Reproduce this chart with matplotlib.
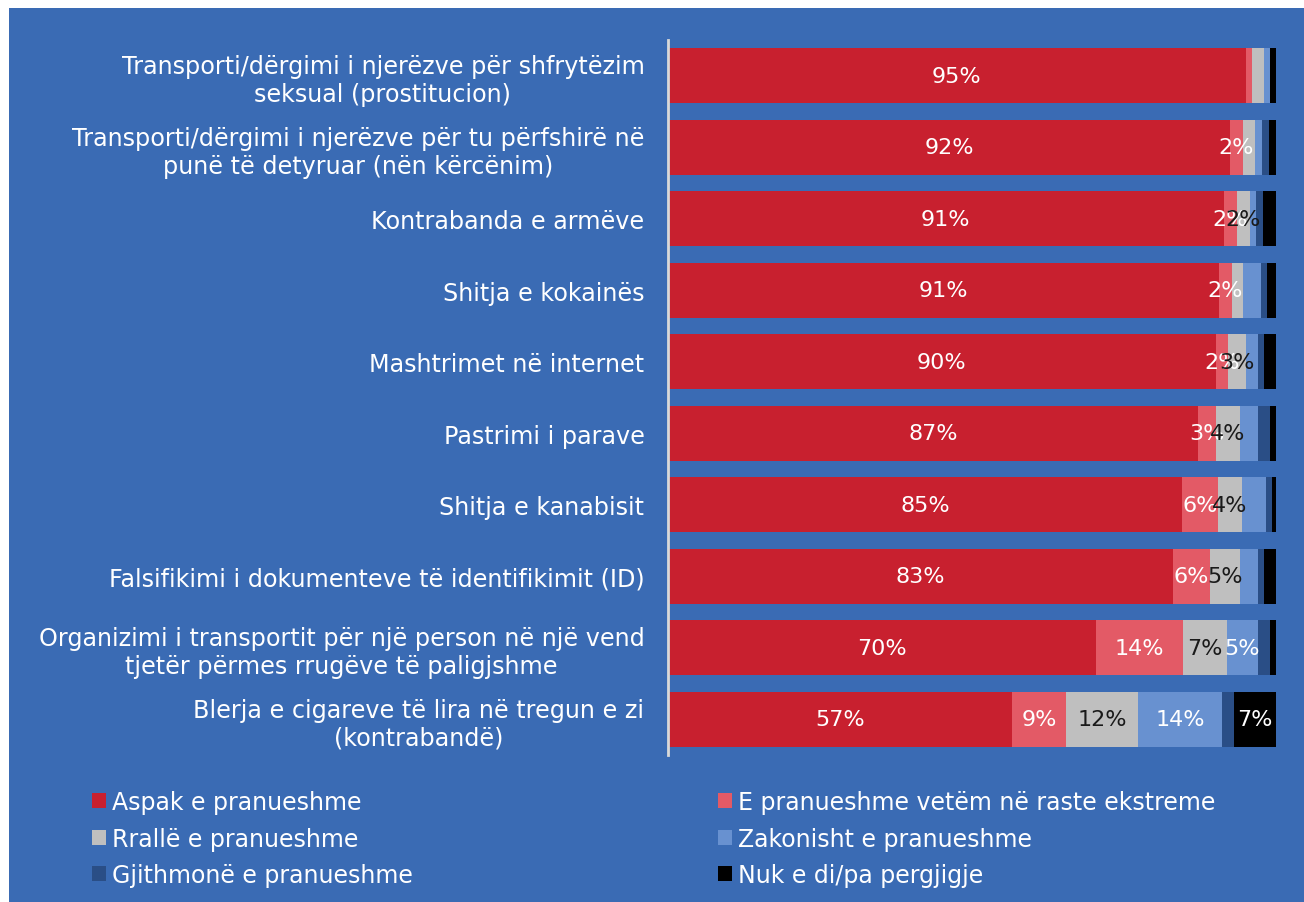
import matplotlib.pyplot as plt
from matplotlib.patches import Rectangle, Patch

categories = [
    "Transporti/dërgimi i njerëzve për shfrytëzim\nseksual (prostitucion)",
    "Transporti/dërgimi i njerëzve për tu përfshirë në\npunë të detyruar (nën kërcënim)",
    "Kontrabanda e armëve",
    "Shitja e kokainës",
    "Mashtrimet në internet",
    "Pastrimi i parave",
    "Shitja e kanabisit",
    "Falsifikimi i dokumenteve të identifikimit (ID)",
    "Organizimi i transportit për një person në një vend\ntjetër përmes rrugëve të paligjshme",
    "Blerja e cigareve të lira në tregun e zi\n(kontrabandë)",
]

series = [
    "Aspak e pranueshme",
    "E pranueshme vetëm në raste ekstreme",
    "Rrallë e pranueshme",
    "Zakonisht e pranueshme",
    "Gjithmonë e pranueshme",
    "Nuk e di/pa pergjigje",
]

aspak = [95.0, 92.4, 91.4, 90.6, 90.1, 87.1, 84.6, 83.1, 70.4, 56.6]
ekstreme = [1.0, 2.1, 2.2, 2.1, 2.0, 3.0, 5.9, 6.0, 14.3, 8.9]
rralle = [2.0, 2.1, 2.1, 1.9, 3.0, 4.0, 3.9, 5.0, 7.2, 11.8]
zakonisht = [1.0, 1.1, 1.0, 2.9, 1.9, 2.9, 4.0, 2.9, 5.2, 13.9]
gjithmone = [0.0, 1.1, 1.1, 1.0, 1.1, 2.0, 0.9, 1.1, 1.9, 1.9]
nuk_di = [1.0, 1.2, 2.2, 1.5, 1.9, 1.0, 0.7, 1.9, 1.0, 6.9]

# labels that are actually printed on the chart
lbl_aspak = ["95%", "92%", "91%", "91%", "90%", "87%", "85%", "83%", "70%", "57%"]
lbl_ekstreme = ["", "2%", "2%", "2%", "2%", "3%", "6%", "6%", "14%", "9%"]
lbl_rralle = ["", "", "2%", "", "3%", "4%", "4%", "5%", "7%", "12%"]
lbl_zakonisht = ["", "", "", "", "", "", "", "", "5%", "14%"]
lbl_gjithmone = [""] * 10
lbl_nuk_di = ["", "", "", "", "", "", "", "", "", "7%"]

values = [aspak, ekstreme, rralle, zakonisht, gjithmone, nuk_di]
labels = [lbl_aspak, lbl_ekstreme, lbl_rralle, lbl_zakonisht, lbl_gjithmone, lbl_nuk_di]
colors = ["#C8202F", "#E35A66", "#BFBFBF", "#6891D0", "#2A4E86", "#000000"]
text_colors = ["white", "white", "#1a1a1a", "white", "white", "white"]

bg = "#3A6BB4"

plt.rcParams["font.family"] = ["DejaVu Sans"]

fig = plt.figure(figsize=(13.04, 9.03), dpi=100)
fig.patch.set_facecolor("white")
fig.patches.append(Rectangle((9 / 1304, 0), 1, 1 - 9 / 903, transform=fig.transFigure,
                             facecolor=bg, edgecolor="none", zorder=0))

ax = fig.add_axes([668 / 1304, 147 / 903, 608 / 1304, 715 / 903])
ax.set_facecolor("none")
ax.set_zorder(2)

y = list(range(len(categories)))
left = [0.0] * len(categories)
for vals, lbls, c, tc, name in zip(values, labels, colors, text_colors, series):
    bars = ax.barh(y, vals, left=left, height=0.77, color=c, label=name)
    ax.bar_label(bars, labels=lbls, label_type="center", color=tc, fontsize=16)
    left = [a + b for a, b in zip(left, vals)]

ax.set_xlim(0, 100)
ax.set_ylim(len(categories) - 0.5, -0.5)
ax.set_yticks(y)
ax.set_yticklabels(categories, fontsize=17.2, color="white", multialignment="center",
                   linespacing=1.2)
ax.tick_params(axis="y", length=0, pad=17)
ax.set_xticks([])
for s in ["top", "right", "bottom"]:
    ax.spines[s].set_visible(False)
ax.spines["left"].set_color("#D9D9D9")
ax.spines["left"].set_linewidth(2)

handles = [Patch(facecolor=c) for c in colors]
order = [0, 2, 4, 1, 3, 5]
leg = fig.legend([handles[i] for i in order], [series[i] for i in order],
                 ncol=2, loc="upper left", bbox_to_anchor=(71 / 1304, 1 - 770 / 903),
                 frameon=False, fontsize=17, labelcolor="white",
                 handlelength=0.6, handleheight=0.6, handletextpad=0.25,
                 columnspacing=12.9, labelspacing=0.53)
leg.set_zorder(3)

fig.savefig("out.png", dpi=100, facecolor=fig.get_facecolor())
plt.close(fig)
